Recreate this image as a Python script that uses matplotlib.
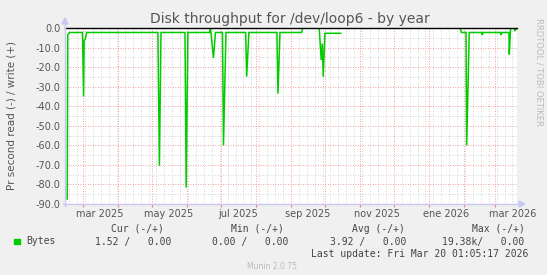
import numpy as np
import matplotlib
matplotlib.use("Agg")
import matplotlib.pyplot as plt
import matplotlib.dates as mdates
from matplotlib.patches import Rectangle
from datetime import datetime

# ---- data ----
times = ["2025-02-15 00:00", "2025-02-15 12:00", "2025-02-17 00:00", "2025-02-28 12:00",
         "2025-03-01 12:00", "2025-03-02 00:00", "2025-03-03 00:00", "2025-03-04 06:00",
         "2025-05-06 06:00", "2025-05-07 14:00", "2025-05-09 00:00", "2025-05-30 05:00",
         "2025-05-31 07:00", "2025-06-01 19:00", "2025-06-20 22:00", "2025-06-21 19:00",
         "2025-06-24 10:00", "2025-06-26 05:00", "2025-07-02 10:00", "2025-07-03 07:00",
         "2025-07-05 12:00", "2025-07-22 22:00", "2025-07-23 19:00", "2025-07-25 19:00",
         "2025-08-19 14:00", "2025-08-20 12:00", "2025-08-22 07:00", "2025-09-10 12:00",
         "2025-09-11 10:00", "2025-09-26 00:00", "2025-09-27 19:00", "2025-09-28 17:00",
         "2025-09-29 14:00", "2025-10-01 02:00", "2025-10-15 00:00", "2025-10-15 12:00",
         "2026-01-28 14:00", "2026-01-30 00:00", "2026-02-02 22:00", "2026-02-03 12:00",
         "2026-02-05 19:00", "2026-02-16 19:00", "2026-02-17 07:00", "2026-02-17 22:00",
         "2026-03-05 14:00", "2026-03-06 02:00", "2026-03-06 17:00", "2026-03-12 22:00",
         "2026-03-13 05:00", "2026-03-14 10:00", "2026-03-17 07:00", "2026-03-18 05:00",
         "2026-03-19 12:00"]
read_values = [-87.5, -3.5, -2.3, -2.3,
               -35.0, -6.5, -5.6, -2.3,
               -2.3, -70.4, -2.3, -2.3,
               -81.6, -2.3, -2.3, 0.0,
               -15.3, -2.3, -2.3, -60.0,
               -2.3, -2.3, -24.9, -2.3,
               -2.3, -33.6, -2.3, -2.3,
               0.0, 0.0, -16.4, -8.0,
               -24.9, -2.7, -2.7, np.nan,
               0.0, -2.3, -2.3, -60.0,
               -2.3, -2.3, -3.6, -2.3,
               -2.3, -3.6, -2.3, -2.3,
               -13.5, 0.0, 0.0, -1.5,
               -0.5]
month_labels = ["mar 2025", "may 2025", "jul 2025", "sep 2025", "nov 2025", "ene 2026", "mar 2026"]
label_months = [(2025, 3), (2025, 5), (2025, 7), (2025, 9), (2025, 11), (2026, 1), (2026, 3)]
y_ticks = [0, -10, -20, -30, -40, -50, -60, -70, -80, -90]
start_time = datetime(2025, 2, 13, 1, 5, 17)
end_time = datetime(2026, 3, 20, 1, 5, 17)

legend_name = "Bytes"
cur_val = "1.52 /   0.00"
min_val = "0.00 /   0.00"
avg_val = "3.92 /   0.00"
max_val = "19.38k/   0.00"

# ---- figure ----
W, H = 547, 275
fig = plt.figure(figsize=(W / 100, H / 100), dpi=100, facecolor="#F0F0F0")
L, R, T, B = 65, 517, 28, 204
ax = fig.add_axes([L / W, 1 - B / H, (R - L) / W, (B - T) / H])
ax.set_facecolor("white")

t = [datetime.strptime(s, "%Y-%m-%d %H:%M") for s in times]
ax.plot(t, read_values, color="#00CC00", lw=1.1, zorder=3, solid_joinstyle="miter")
ax.axhline(0, color="black", lw=1.0, zorder=4, clip_on=False)

ax.set_xlim(start_time, end_time)
ax.set_ylim(-90, 0)

# grids
ax.xaxis.set_major_locator(mdates.MonthLocator())
ax.xaxis.set_minor_locator(mdates.WeekdayLocator(byweekday=mdates.MO))
ax.set_yticks(y_ticks)
ax.set_yticks(np.arange(-85, 0, 10), minor=True)
ax.grid(which="minor", color="#C8C8C8", lw=0.6, linestyle=(0, (1, 2)), zorder=1)
ax.grid(which="major", color="#F08080", lw=0.6, linestyle=(0, (1, 2)), zorder=2)
ax.set_xticklabels([])
ax.tick_params(axis="x", which="major", length=2, color="#F08080", labelbottom=False)
ax.tick_params(axis="x", which="minor", length=0)
ax.tick_params(axis="y", which="both", length=0, labelsize=7, labelcolor="#555555", pad=3)
ax.yaxis.set_major_formatter(matplotlib.ticker.FormatStrFormatter("%.1f"))
for sp in ax.spines.values():
    sp.set_visible(False)

# month labels at mid-month
for lab, (yy, mm) in zip(month_labels, label_months):
    ax.text(mdates.date2num(datetime(yy, mm, 16)), -92.5, lab, ha="center", va="top",
            fontsize=7, color="#555555", clip_on=False)

# axis lines with arrows
acol = "#C8C8F0"
fig.add_artist(matplotlib.lines.Line2D([L / W, L / W], [1 - (B + 2) / H, 1 - (T - 4) / H], color=acol, lw=1))
fig.add_artist(matplotlib.lines.Line2D([(L - 2) / W, (R + 2) / W], [1 - B / H, 1 - B / H], color=acol, lw=1))
fig.patches.append(matplotlib.patches.Polygon([[(L - 3) / W, 1 - (T - 4) / H], [(L + 3) / W, 1 - (T - 4) / H],
                                               [L / W, 1 - (T - 10) / H]], closed=True, color=acol,
                                              transform=fig.transFigure))
fig.patches.append(matplotlib.patches.Polygon([[(R + 2) / W, 1 - (B - 3) / H], [(R + 2) / W, 1 - (B + 3) / H],
                                               [(R + 8) / W, 1 - B / H]], closed=True, color=acol,
                                              transform=fig.transFigure))

# titles
fig.text(290 / W, 1 - 19 / H, "Disk throughput for /dev/loop6 - by year", ha="center", va="center",
         fontsize=10, color="#555555")
fig.text(12 / W, 1 - 115 / H, "Pr second read (-) / write (+)", rotation=90, ha="center", va="center",
         fontsize=7.5, color="#555555")
fig.text(539 / W, 1 - 18 / H, "RRDTOOL / TOBI OETIKER", rotation=270, ha="center", va="top",
         fontsize=6, color="#BBBBBB")

# legend
mono = "DejaVu Sans Mono"
lc = "#444444"
fs = 7
for x, s in [(111, "Cur (-/+)"), (231, "Min (-/+)"), (352, "Avg (-/+)"), (472, "Max (-/+)")]:
    fig.text(x / W, 1 - 228.5 / H, s, family=mono, fontsize=fs, color=lc, ha="left", va="center")
fig.patches.append(Rectangle((14 / W, 1 - 244 / H), 5.5 / W, 5.5 / H, color="#00CC00", transform=fig.transFigure))
fig.text(26 / W, 1 - 241.5 / H, legend_name, family=mono, fontsize=fs, color=lc, ha="left", va="center")
for x, s in [(95, cur_val), (212.5, min_val), (330, avg_val), (442, max_val)]:
    fig.text(x / W, 1 - 241.5 / H, s, family=mono, fontsize=fs, color=lc, ha="left", va="center")
fig.text(311 / W, 1 - 254 / H, "Last update: Fri Mar 20 01:05:17 2026", family=mono, fontsize=fs,
         color=lc, ha="left", va="center")
fig.text(272 / W, 1 - 266.5 / H, "Munin 2.0.75", fontsize=5.5, color="#BBBBBB", ha="center", va="center")

fig.savefig("out.png", dpi=100, facecolor=fig.get_facecolor())
